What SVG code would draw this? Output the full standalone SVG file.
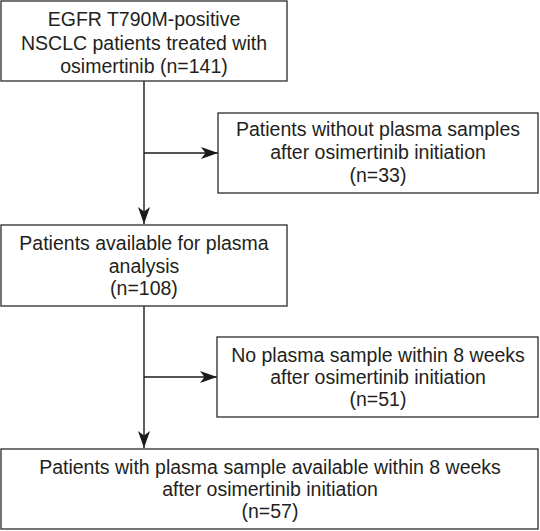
<svg xmlns="http://www.w3.org/2000/svg" width="540" height="531" viewBox="0 0 540 531">
<defs>
<style>
.box{fill:#fff;stroke:#3a3a3a;stroke-width:1.4}
.t{font-family:"Liberation Sans",Arial,sans-serif;font-size:19.5px;fill:#231f20;text-anchor:middle}
.c{stroke:#1a1a1a;stroke-width:1.4;fill:none}
</style>
<marker id="ah" viewBox="0 0 17 12" markerWidth="17" markerHeight="12" refX="17" refY="6" orient="auto" markerUnits="userSpaceOnUse">
<path d="M0,0 L17,6 L0,12 L4.5,6 Z" fill="#1a1a1a"/>
</marker>
</defs>
<rect width="540" height="531" fill="#fff"/>
<g id="connectors">
<path class="c" d="M144,81 V224" marker-end="url(#ah)"/>
<path class="c" d="M144,153 H218" marker-end="url(#ah)"/>
<path class="c" d="M144,306 V448" marker-end="url(#ah)"/>
<path class="c" d="M144,377 H217" marker-end="url(#ah)"/>
</g>
<g id="n1">
<rect class="box" x="1" y="1" width="286" height="80"/>
<text class="t" x="144" y="26">EGFR T790M-positive</text>
<text class="t" x="144" y="50">NSCLC patients treated with</text>
<text class="t" x="144" y="73">osimertinib (n=141)</text>
</g>
<g id="n2">
<rect class="box" x="218" y="113" width="320" height="80"/>
<text class="t" x="378" y="136">Patients without plasma samples</text>
<text class="t" x="378" y="159">after osimertinib initiation</text>
<text class="t" x="378" y="182">(n=33)</text>
</g>
<g id="n3">
<rect class="box" x="1" y="225" width="286" height="81"/>
<text class="t" x="144" y="250">Patients available for plasma</text>
<text class="t" x="144" y="272.5">analysis</text>
<text class="t" x="144" y="295">(n=108)</text>
</g>
<g id="n4">
<rect class="box" x="217" y="337" width="321" height="80"/>
<text class="t" x="378" y="362">No plasma sample within 8 weeks</text>
<text class="t" x="378" y="384">after osimertinib initiation</text>
<text class="t" x="378" y="406">(n=51)</text>
</g>
<g id="n5">
<rect class="box" x="1" y="449" width="537" height="80"/>
<text class="t" x="270" y="474">Patients with plasma sample available within 8 weeks</text>
<text class="t" x="270" y="496">after osimertinib initiation</text>
<text class="t" x="270" y="518">(n=57)</text>
</g>
</svg>
